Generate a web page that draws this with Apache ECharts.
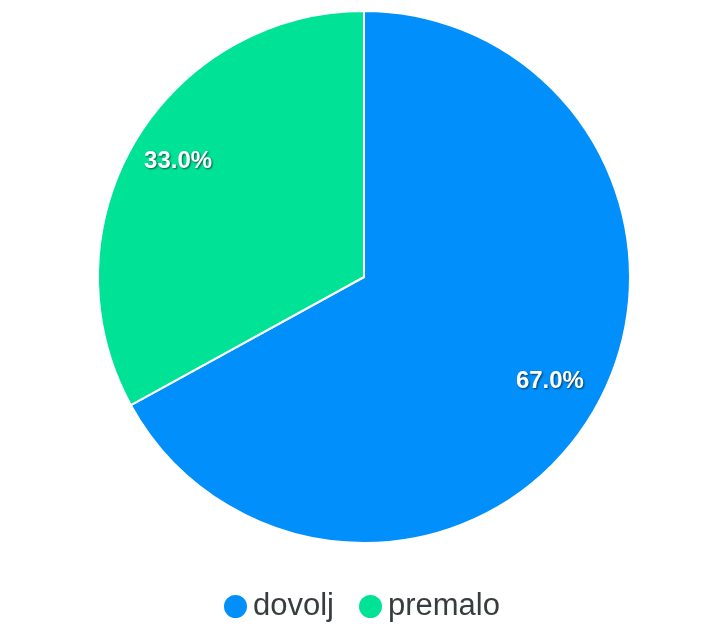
<!DOCTYPE html>
<html>
<head>
<meta charset="utf-8">
<script src="https://cdn.jsdelivr.net/npm/echarts@6/dist/echarts.min.js"></script>
<style>
html,body{margin:0;padding:0;background:#fff;}
#pie{width:705px;height:628px;}
</style>
</head>
<body>
<div id="pie"></div>
<script>
var names = ['dovolj', 'premalo'];
var values = [67.0, 33.0];
var colors = ['#008FFB', '#00E396'];

var array = [];
for (var i = 0; i < names.length; i++) {
	array.push({name: names[i], value: values[i], itemStyle: {color: colors[i]}});
}
var labelArray = [];
for (var j = 0; j < names.length; j++) {
	labelArray.push({name: names[j], value: values[j]});
}

var pieChart = echarts.init(document.getElementById('pie'));
var pieOption = {
	animation: false,
	textStyle: {fontFamily: 'Helvetica, Arial, sans-serif'},
	legend: {
		data: names,
		bottom: 1,
		left: 217,
		icon: 'circle',
		itemWidth: 25,
		itemHeight: 25,
		itemGap: 23,
		textStyle: {fontSize: 31, color: '#373d3f'}
	},
	series: [
		{
			type: 'pie',
			center: [364, 277],
			radius: [0, 266],
			startAngle: 90,
			clockwise: true,
			data: array,
			label: {show: false},
			labelLine: {show: false},
			itemStyle: {borderColor: '#fff', borderWidth: 2},
			emphasis: {scale: false}
		},
		{
			// transparent ring only used to place the percent labels further out
			type: 'pie',
			center: [364, 277],
			radius: [160, 266],
			startAngle: 90,
			clockwise: true,
			silent: true,
			data: labelArray,
			itemStyle: {color: 'rgba(0,0,0,0)'},
			label: {
				show: true,
				position: 'inside',
				formatter: function (p) { return p.value.toFixed(1) + '%'; },
				color: '#fff',
				fontSize: 24,
				fontWeight: 'bold',
				textShadowColor: 'rgba(0,0,0,0.6)',
				textShadowBlur: 2,
				textShadowOffsetX: 1,
				textShadowOffsetY: 1
			},
			labelLayout: {dy: -6},
			labelLine: {show: false}
		}
	]
};
pieChart.setOption(pieOption);
</script>
</body>
</html>
